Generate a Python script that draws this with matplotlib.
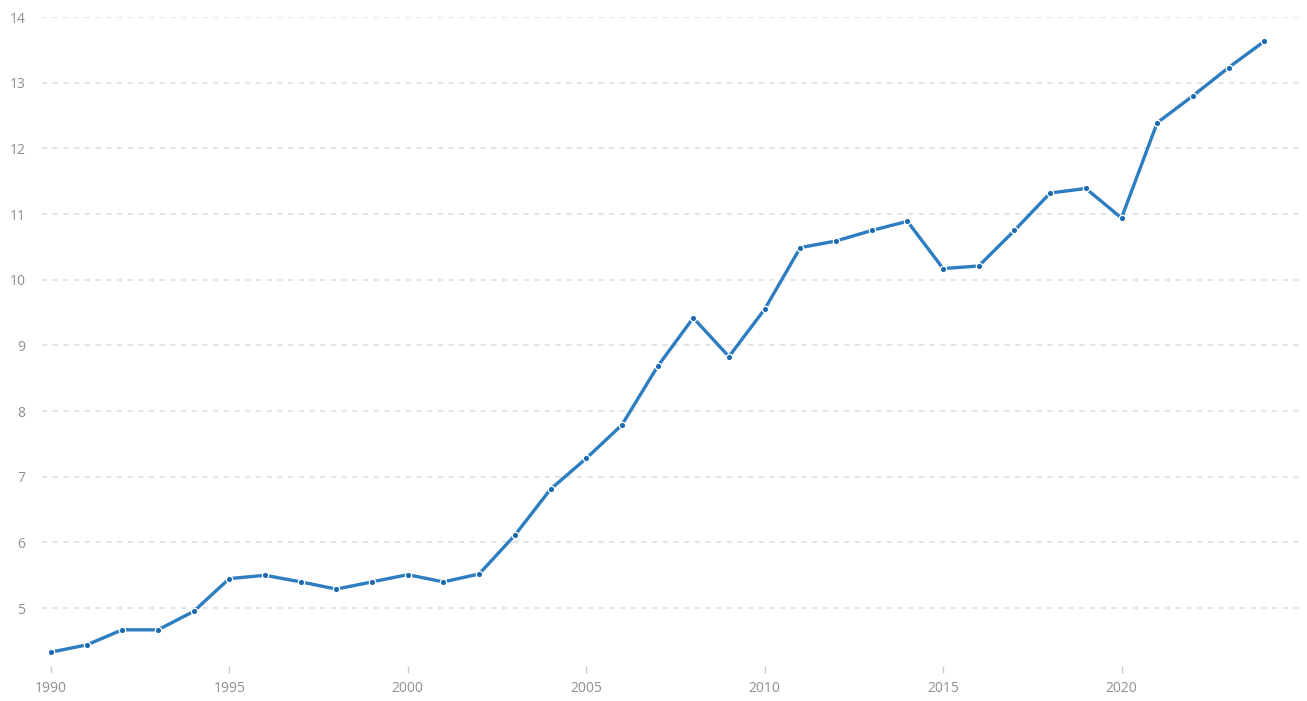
import matplotlib.pyplot as plt

plt.rcParams['font.family'] = ['Open Sans', 'DejaVu Sans']

years = list(range(1990, 2025))
values = [4.33, 4.44, 4.67, 4.67, 4.95, 5.45, 5.50, 5.40, 5.29, 5.40,
          5.51, 5.40, 5.52, 6.11, 6.81, 7.28, 7.79, 8.68, 9.42, 8.83,
          9.55, 10.49, 10.59, 10.75, 10.89, 10.17, 10.21, 10.75, 11.32, 11.39,
          10.94, 12.39, 12.80, 13.23, 13.63]
x_ticks = [1990, 1995, 2000, 2005, 2010, 2015, 2020]
y_ticks = [5, 6, 7, 8, 9, 10, 11, 12, 13, 14]

fig = plt.figure(figsize=(13.07, 7.01), dpi=100)
ax = fig.add_axes([0.0321, 0.0500, 0.9625, 0.9257])

ax.plot(years, values, color='#2d7dc1', linewidth=2.4, zorder=3,
        marker='o', markersize=4.6, markerfacecolor='#1c69ad',
        markeredgecolor='white', markeredgewidth=0.9, clip_on=False)

ax.set_xlim(1989.75, 2025.0)
ax.set_ylim(4.12, 14.0)
ax.set_xticks(x_ticks)
ax.set_yticks(y_ticks)

for y in y_ticks:
    ax.axhline(y, color='#dcdcdc', linewidth=1.1, dashes=(3.5, 3.5), zorder=1)

for s in ax.spines.values():
    s.set_visible(False)

ax.tick_params(axis='y', length=0, pad=12, labelsize=10, labelcolor='#8f8f8f')
ax.tick_params(axis='x', length=5, width=1, color='#cccccc', pad=6,
               labelsize=10, labelcolor='#8f8f8f')

fig.savefig('out.png', dpi=100)
